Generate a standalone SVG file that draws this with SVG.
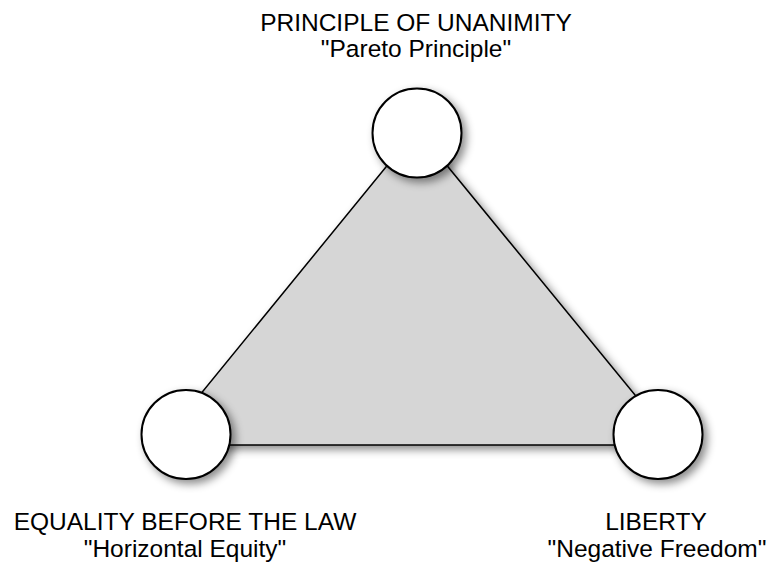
<svg xmlns="http://www.w3.org/2000/svg" width="768" height="579" viewBox="0 0 768 579">
  <defs>
    <filter id="shadow" x="-30%" y="-30%" width="160%" height="160%">
      <feDropShadow dx="4" dy="4" stdDeviation="4" flood-color="#000" flood-opacity="0.45"/>
    </filter>
  </defs>
  <style>
    .node { fill: #ffffff; stroke: #000000; stroke-width: 2; }
    .label { font-family: "Liberation Sans", Arial, sans-serif; font-size: 24.5px; fill: #000000; text-anchor: middle; }
    .tri { fill: #d6d6d6; stroke: #000000; stroke-width: 1.5; stroke-linejoin: miter; }
  </style>
  <rect width="768" height="579" fill="#ffffff"/>
  <g id="connectors">
    <polygon class="tri" points="417,129 159,445 676,445" filter="url(#shadow)"/>
  </g>
  <g id="node-unanimity">
    <circle class="node" cx="417" cy="133" r="44.5" filter="url(#shadow)"/>
    <text class="label" x="416" y="31">PRINCIPLE OF UNANIMITY</text>
    <text class="label" x="416" y="57">"Pareto Principle"</text>
  </g>
  <g id="node-equality">
    <circle class="node" cx="186" cy="434.5" r="44.5" filter="url(#shadow)"/>
    <text class="label" x="185" y="530">EQUALITY BEFORE THE LAW</text>
    <text class="label" x="185" y="557">"Horizontal Equity"</text>
  </g>
  <g id="node-liberty">
    <circle class="node" cx="658" cy="434.5" r="44.5" filter="url(#shadow)"/>
    <text class="label" x="656" y="530">LIBERTY</text>
    <text class="label" x="657" y="557">"Negative Freedom"</text>
  </g>
</svg>
